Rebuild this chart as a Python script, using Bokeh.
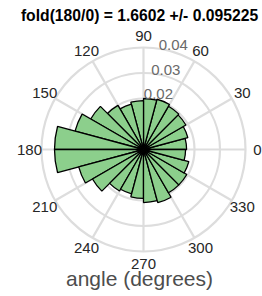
import numpy as np
from bokeh.plotting import figure
from bokeh.embed import file_html
from bokeh.resources import INLINE
from bokeh.core.properties import value

# ---- data ----
bin_start_deg = [0, 15, 30, 45, 60, 75, 90, 105, 120, 135, 150, 165,
                 180, 195, 210, 225, 240, 255, 270, 285, 300, 315, 330, 345]
bin_width_deg = 15
bin_values = [0.0169, 0.0180, 0.0192, 0.0196, 0.0204, 0.0200, 0.0192, 0.0184,
              0.0200, 0.0239, 0.0278, 0.0349, 0.0349, 0.0263, 0.0231, 0.0188,
              0.0180, 0.0192, 0.0208, 0.0216, 0.0196, 0.0196, 0.0184, 0.0165]
ring_values = [0.01, 0.02, 0.03, 0.04]
rtick_values = [0.02, 0.03, 0.04]
rtick_labels = ["0.02", "0.03", "0.04"]
theta_ticks = [0, 30, 60, 90, 120, 150, 180, 210, 240, 270, 300, 330]
theta_labels = [str(t) for t in theta_ticks]
title_text = "fold(180/0) = 1.6602 +/- 0.095225"
xlabel_text = "angle (degrees)"

# ---- layout ----
W, H = 262, 296
S = 2550.0            # px per data unit
cx_px, cy_px = 143, 149   # centre of polar plot inside the canvas
rmax = max(ring_values)
label_r = 114 / S
rtick_angle = np.deg2rad(73)
FONT = "Liberation Sans"

p = figure(width=W, height=H, output_backend="svg", toolbar_location=None,
           x_range=(-cx_px / S, (W - cx_px) / S),
           y_range=(-(H - cy_px) / S, cy_px / S),
           min_border=0, outline_line_color=None,
           x_axis_location=None, y_axis_location=None)
p.grid.visible = False
p.background_fill_color = "white"
p.border_fill_color = "white"

grid_col = "#dddddd"
# rings
p.circle(x=[0] * len(ring_values), y=[0] * len(ring_values), radius=ring_values,
         fill_color=None, line_color=grid_col, line_width=2.2)
# spokes
th = np.deg2rad(theta_ticks)
p.segment(x0=np.zeros(len(th)), y0=np.zeros(len(th)),
          x1=rmax * np.cos(th), y1=rmax * np.sin(th),
          line_color=grid_col, line_width=2.2)

# bars
starts = np.deg2rad(np.array(bin_start_deg, dtype=float))
ends = np.deg2rad(np.array(bin_start_deg, dtype=float) + bin_width_deg)
p.wedge(x=0, y=0, radius=bin_values, start_angle=starts, end_angle=ends,
        fill_color="#8ccf8c", line_color="black", line_width=1.3)

# theta labels
p.text(x=label_r * np.cos(th), y=label_r * np.sin(th), text=theta_labels,
       text_font=value(FONT), text_font_size="15px", text_color="#262626",
       text_align="center", text_baseline="middle")

# r tick labels
rv = np.array(rtick_values)
p.text(x=rv * np.cos(rtick_angle), y=rv * np.sin(rtick_angle) + 1.5 / S,
       text=rtick_labels, text_font=value(FONT), text_font_size="15px",
       text_color="#6a6a6a", text_align="center", text_baseline="bottom")

# title
p.text(x=[-4 / S], y=[(cy_px - 15) / S], text=[title_text],
       text_font=value(FONT), text_font_size="15.7px", text_font_style="bold",
       text_color="black", text_align="center", text_baseline="middle")

# x label
p.text(x=[-4 / S], y=[-(278 - cy_px) / S], text=[xlabel_text],
       text_font=value(FONT), text_font_size="21px", text_color="#4d4d4d",
       text_align="center", text_baseline="middle")

open("out.html", "w").write(file_html(p, INLINE))
